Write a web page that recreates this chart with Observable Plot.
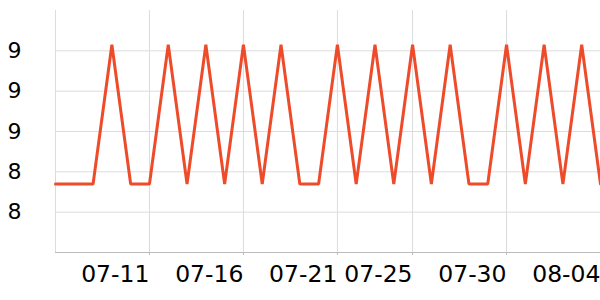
<!DOCTYPE html>
<html>
<head>
<meta charset="utf-8">
<script src="https://cdn.jsdelivr.net/npm/d3@7"></script>
<script src="https://cdn.jsdelivr.net/npm/@observablehq/plot@0.6"></script>
<style>
  html, body { margin: 0; padding: 0; background: #fff; }
  #chart svg { display: block; }
</style>
</head>
<body>
<div id="chart"></div>
<script>
const dates = ["07-06","07-07","07-08","07-09","07-10","07-11","07-12","07-13","07-14","07-15",
  "07-16","07-17","07-18","07-19","07-20","07-21","07-22","07-23","07-24","07-25",
  "07-26","07-27","07-28","07-29","07-30","07-31","08-01","08-02","08-03","08-04"];
const values = [8.34,8.34,8.34,9.03,8.34,8.34,9.03,8.34,9.03,8.34,
  9.03,8.34,9.03,8.34,8.34,9.03,8.34,9.03,8.34,9.03,
  8.34,9.03,8.34,8.34,9.03,8.34,9.03,8.34,9.03,8.34];
const xTicks = ["07-11","07-16","07-21","07-25","07-30","08-04"];
const yTicks = [8.2, 8.4, 8.6, 8.8, 9.0];
const yDomain = [8.0, 9.2];

const data = dates.map((d, i) => ({date: d, value: values[i]}));

const chart = Plot.plot({
  width: 600,
  height: 300,
  marginLeft: 55,
  marginRight: 0,
  marginTop: 10,
  marginBottom: 48,
  style: {fontFamily: "DejaVu Sans", fontSize: "22px", color: "#000", background: "#fff"},
  x: {type: "point", domain: dates, padding: 0, round: false},
  y: {domain: yDomain},
  marks: [
    Plot.gridX(xTicks, {stroke: "#dcdcdc", strokeOpacity: 1}),
    Plot.gridY(yTicks, {stroke: "#dcdcdc", strokeOpacity: 1}),
    Plot.ruleX([dates[0]], {stroke: "#dcdcdc", strokeOpacity: 1}),
    Plot.ruleY([yDomain[0]], {stroke: "#bbbbbb"}),
    Plot.axisX(xTicks, {tickSize: 3, tickPadding: 10, textAnchor: "end", stroke: "#bbbbbb", fill: "#000", fontSize: 23.5, label: null}),
    Plot.axisY(yTicks, {tickSize: 0, tickPadding: 34, tickFormat: d3.format(".0f"), fill: "#000", fontSize: 22, label: null}),
    Plot.line(data, {x: "date", y: "value", stroke: "#ee4b2b", strokeWidth: 3, strokeLinejoin: "miter"})
  ]
});
document.getElementById("chart").appendChild(chart);
</script>
</body>
</html>
